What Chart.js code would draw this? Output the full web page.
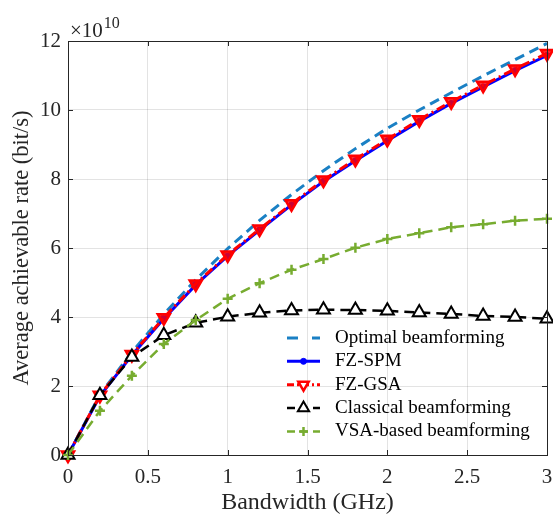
<!DOCTYPE html>
<html>
<head>
<meta charset="utf-8">
<script src="https://cdn.jsdelivr.net/npm/chart.js@4.4.1/dist/chart.umd.min.js"></script>
<style>
html,body{margin:0;padding:0;background:#fff;}
#wrap{width:553px;height:515px;}
</style>
</head>
<body>
<div id="wrap"><canvas id="c" width="553" height="515"></canvas></div>
<script>
// Bandwidth (GHz)
const bandwidth = [0, 0.2, 0.4, 0.6, 0.8, 1.0, 1.2, 1.4, 1.6, 1.8, 2.0, 2.2, 2.4, 2.6, 2.8, 3.0];
// Average achievable rate, in units of 1e10 bit/s
const optimalRate   = [0, 1.75, 2.98, 4.08, 5.08, 5.98, 6.80, 7.55, 8.24, 8.88, 9.47, 10.00, 10.50, 10.99, 11.46, 11.93];
const fzSpmRate     = [0, 1.71, 2.89, 3.95, 4.93, 5.77, 6.52, 7.25, 7.93, 8.53, 9.11, 9.67, 10.19, 10.67, 11.14, 11.58];
const fzGsaRate     = [0, 1.73, 2.91, 3.98, 4.96, 5.80, 6.55, 7.28, 7.97, 8.57, 9.15, 9.72, 10.24, 10.72, 11.19, 11.64];
const classicalRate = [0, 1.73, 2.84, 3.47, 3.83, 4.01, 4.12, 4.19, 4.21, 4.20, 4.18, 4.13, 4.09, 4.03, 4.00, 3.95];
const vsaRate       = [0, 1.28, 2.30, 3.22, 3.91, 4.53, 4.98, 5.37, 5.68, 6.01, 6.26, 6.43, 6.60, 6.69, 6.79, 6.85];
const seriesLabels = ['Optimal beamforming', 'FZ-SPM', 'FZ-GSA', 'Classical beamforming', 'VSA-based beamforming'];
const xTickLabels = ['0', '0.5', '1', '1.5', '2', '2.5', '3'];
const yTickLabels = ['0', '2', '4', '6', '8', '10', '12'];
const xTitle = 'Bandwidth (GHz)';
const yTitle = 'Average achievable rate (bit/s)';
const expBase = '\u00D710';
const expPow = '10';

const toPts = arr => arr.map((v, i) => ({x: bandwidth[i], y: v}));
const SERIF = "'Liberation Serif', 'Times New Roman', serif";
const AX = '#262626';

const styles = [
  {color: '#1A80C4', dash: [10, 6], point: 'none', width: 3, order: 4},
  {color: '#0000FF', dash: [], point: 'circle', width: 3, order: 3, pr: 3, pfill: '#0000FF'},
  {color: '#FF0000', dash: [9, 4, 2, 4], point: 'triangle', rot: 180, width: 3, order: 2, pr: 7, pfill: 'rgba(255,0,0,0.8)', pw: 2.5},
  {color: '#000000', dash: [10, 6], point: 'triangle', rot: 0, width: 2.5, order: 1, pr: 7.5, pfill: '#ffffff', pw: 2},
  {color: '#77AC30', dash: [10, 6], point: 'cross', width: 2.5, order: 0, pr: 5, pfill: '#77AC30', pw: 2.5}
];
const seriesData = [optimalRate, fzSpmRate, fzGsaRate, classicalRate, vsaRate];

const datasets = seriesData.map((d, i) => {
  const s = styles[i];
  return {
    label: seriesLabels[i],
    data: toPts(d),
    borderColor: s.color,
    backgroundColor: s.color,
    borderWidth: s.width,
    borderDash: s.dash,
    pointStyle: s.point === 'none' ? false : s.point,
    pointRadius: s.point === 'none' ? 0 : s.pr,
    pointRotation: s.rot || 0,
    pointBackgroundColor: s.pfill,
    pointBorderColor: s.color,
    pointBorderWidth: s.pw || 1,
    tension: 0,
    fill: false,
    clip: false,
    order: s.order
  };
});

function drawMarker(ctx, s, x, y) {
  if (s.point === 'none') return;
  ctx.save();
  ctx.setLineDash([]);
  ctx.strokeStyle = s.color;
  ctx.fillStyle = s.pfill;
  ctx.lineWidth = s.pw || 1;
  const r = s.pr;
  ctx.beginPath();
  if (s.point === 'circle') {
    ctx.arc(x, y, r, 0, Math.PI * 2);
    ctx.fill(); ctx.stroke();
  } else if (s.point === 'triangle') {
    let a = (s.rot || 0) * Math.PI / 180;
    for (let k = 0; k < 3; k++) {
      const px = x + Math.sin(a) * r, py = y - Math.cos(a) * r;
      if (k === 0) ctx.moveTo(px, py); else ctx.lineTo(px, py);
      a += 2 * Math.PI / 3;
    }
    ctx.closePath();
    ctx.fill(); ctx.stroke();
  } else if (s.point === 'cross') {
    ctx.moveTo(x - r, y); ctx.lineTo(x + r, y);
    ctx.moveTo(x, y - r); ctx.lineTo(x, y + r);
    ctx.stroke();
  }
  ctx.restore();
}

const framePlugin = {
  id: 'frame',
  afterDatasetsDraw(chart) {
    const ctx = chart.ctx;
    const a = chart.chartArea;
    const xs = chart.scales.x, ys = chart.scales.y;
    ctx.save();
    ctx.setLineDash([]);
    ctx.strokeStyle = AX;
    ctx.lineWidth = 1;
    ctx.strokeRect(Math.round(a.left) + 0.5, Math.round(a.top) + 0.5, Math.round(a.right - a.left), Math.round(a.bottom - a.top));
    const tl = 5;
    ctx.beginPath();
    xTickLabels.forEach(t => {
      const px = Math.round(xs.getPixelForValue(parseFloat(t))) + 0.5;
      ctx.moveTo(px, a.bottom); ctx.lineTo(px, a.bottom - tl);
      ctx.moveTo(px, a.top); ctx.lineTo(px, a.top + tl);
    });
    yTickLabels.forEach(t => {
      const py = Math.round(ys.getPixelForValue(parseFloat(t))) + 0.5;
      ctx.moveTo(a.left, py); ctx.lineTo(a.left + tl, py);
      ctx.moveTo(a.right, py); ctx.lineTo(a.right - tl, py);
    });
    ctx.stroke();
    ctx.fillStyle = AX;
    ctx.textBaseline = 'alphabetic';
    ctx.textAlign = 'left';
    ctx.font = '21px ' + SERIF;
    const bx = a.left + 2, by = a.top - 4;
    ctx.fillText(expBase, bx, by);
    const w = ctx.measureText(expBase).width;
    ctx.font = '16px ' + SERIF;
    ctx.fillText(expPow, bx + w + 1, by - 9);
    const x0 = a.right - 260, x1 = x0 + 33, tx = x0 + 48;
    const y0 = a.bottom - 117, dy = 23.35;
    styles.forEach((s, i) => {
      const y = y0 + i * dy;
      ctx.save();
      ctx.strokeStyle = s.color;
      ctx.lineWidth = s.width;
      ctx.setLineDash(i === 0 ? [11, 14] : (i === 2 ? [7, 3, 2, 3] : (s.dash.length ? [8, 5] : [])));
      ctx.beginPath();
      ctx.moveTo(x0, y); ctx.lineTo(x1, y);
      ctx.stroke();
      ctx.restore();
      const ls = Object.assign({}, s);
      if (i === 2) { ls.pfill = '#ffffff'; ls.pr = 6; }
      if (i === 3) { ls.pr = 6.5; }
      if (i === 4) { ls.pr = 4.5; }
      drawMarker(ctx, ls, (x0 + x1) / 2, y);
      ctx.fillStyle = '#000';
      ctx.font = '19px ' + SERIF;
      ctx.textBaseline = 'middle';
      ctx.fillText(seriesLabels[i], tx, y);
    });
    ctx.restore();
  }
};

new Chart(document.getElementById('c'), {
  type: 'line',
  data: {datasets},
  options: {
    responsive: false,
    animation: false,
    layout: {autoPadding: false, padding: {top: 41, right: 6, left: 0, bottom: 0}},
    plugins: {legend: {display: false}, tooltip: {enabled: false}},
    scales: {
      x: {
        type: 'linear', min: 0, max: 3,
        afterBuildTicks: s => { s.ticks = xTickLabels.map(t => ({value: parseFloat(t)})); },
        afterFit: s => { s.height = 60; s.paddingLeft = 0; s.paddingRight = 0; },
        ticks: {
          color: AX, font: {family: SERIF, size: 21}, padding: 10, maxRotation: 0,
          callback: (v, i) => xTickLabels[i]
        },
        grid: {color: 'rgba(0,0,0,0.11)', drawTicks: false},
        border: {display: false},
        title: {display: true, text: xTitle, color: AX, font: {family: SERIF, size: 24, lineHeight: 1}, padding: {top: 0, bottom: 0}}
      },
      y: {
        type: 'linear', min: 0, max: 12,
        afterBuildTicks: s => { s.ticks = yTickLabels.map(t => ({value: parseFloat(t)})); },
        afterFit: s => { s.width = 68; s.paddingTop = 0; s.paddingBottom = 0; },
        ticks: {
          color: AX, font: {family: SERIF, size: 21}, padding: 7,
          callback: (v, i) => yTickLabels[i]
        },
        grid: {color: 'rgba(0,0,0,0.11)', drawTicks: false},
        border: {display: false},
        title: {display: true, text: yTitle, color: AX, font: {family: SERIF, size: 22.5, lineHeight: 1}, padding: {top: 11, bottom: 0}}
      }
    }
  },
  plugins: [framePlugin]
});
</script>
</body>
</html>
